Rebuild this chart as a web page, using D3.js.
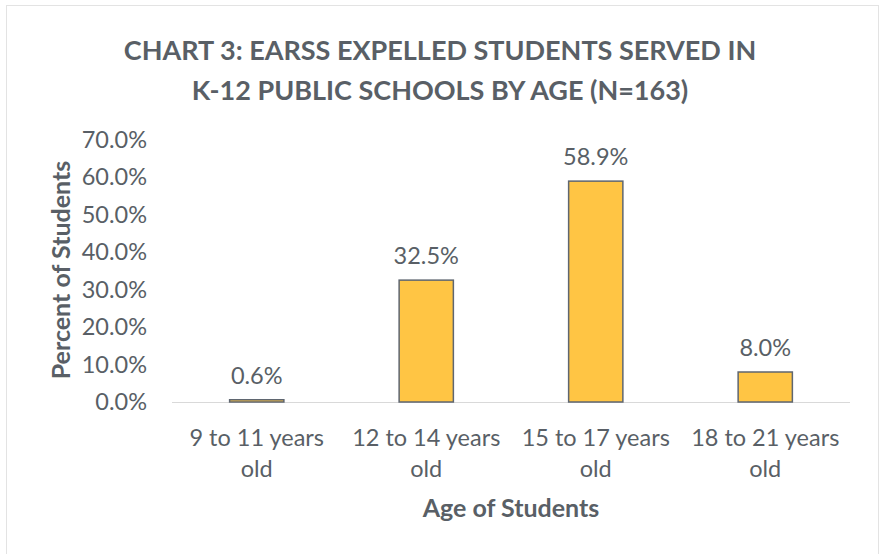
<!DOCTYPE html>
<html>
<head>
<meta charset="utf-8">
<script src="https://cdn.jsdelivr.net/npm/d3@7"></script>
<style>
  body { margin: 0; background: #fff; }
  text { font-family: Lato, "Open Sans", sans-serif; fill: #595f66; }
</style>
</head>
<body>
<svg id="chart" width="880" height="554"></svg>
<script>
const categories = [["9 to 11 years", "old"], ["12 to 14 years", "old"], ["15 to 17 years", "old"], ["18 to 21 years", "old"]];
const values = [0.6, 32.5, 58.9, 8.0];
const yTicks = [0, 10, 20, 30, 40, 50, 60, 70];
const titleLines = ["CHART 3: EARSS EXPELLED STUDENTS SERVED IN", "K-12 PUBLIC SCHOOLS BY AGE (N=163)"];

const svg = d3.select("#chart");

// outer frame
svg.append("rect")
  .attr("x", 6.5).attr("y", 5.5)
  .attr("width", 872).attr("height", 560)
  .attr("fill", "#fff").attr("stroke", "#e3e3e3").attr("stroke-width", 1);

const plot = { left: 172, right: 850, top: 139.5, bottom: 402 };

const x = d3.scaleBand()
  .domain(categories.map((d, i) => i))
  .range([plot.left, plot.right])
  .paddingInner(0.68).paddingOuter(0.34);

const y = d3.scaleLinear().domain([0, 70]).range([plot.bottom, plot.top]);

// title
svg.append("g").selectAll("text")
  .data(titleLines)
  .join("text")
  .attr("x", 440)
  .attr("y", (d, i) => 60 + i * 40)
  .attr("text-anchor", "middle")
  .attr("font-size", 27)
  .attr("font-weight", "bold")
  .text(d => d);

// y axis labels
const yAxis = svg.append("g")
  .attr("transform", `translate(147,0)`)
  .call(d3.axisLeft(y).tickValues(yTicks).tickFormat(d => d.toFixed(1) + "%").tickSize(0).tickPadding(0));
yAxis.select(".domain").remove();
yAxis.selectAll("text").attr("font-size", 23.5).attr("fill", "#595f66")
  .style("font-family", "Lato, 'Open Sans', sans-serif");

// baseline
svg.append("line")
  .attr("x1", plot.left).attr("x2", plot.right)
  .attr("y1", plot.bottom + 0.5).attr("y2", plot.bottom + 0.5)
  .attr("stroke", "#d9d9d9").attr("stroke-width", 1);

// bars
svg.append("g").selectAll("rect")
  .data(values)
  .join("rect")
  .attr("x", (d, i) => x(i))
  .attr("y", d => y(d))
  .attr("width", x.bandwidth())
  .attr("height", d => y(0) - y(d))
  .attr("fill", "#ffc544")
  .attr("stroke", "#5f6670")
  .attr("stroke-width", 1.5);

// value labels
svg.append("g").selectAll("text")
  .data(values)
  .join("text")
  .attr("x", (d, i) => x(i) + x.bandwidth() / 2)
  .attr("y", d => y(d) - 16)
  .attr("text-anchor", "middle")
  .attr("font-size", 23.5)
  .text(d => d.toFixed(1) + "%");

// category labels
const cat = svg.append("g").selectAll("text")
  .data(categories)
  .join("text")
  .attr("x", (d, i) => x(i) + x.bandwidth() / 2)
  .attr("y", 446)
  .attr("text-anchor", "middle")
  .attr("font-size", 23.5);
cat.selectAll("tspan")
  .data(d => d)
  .join("tspan")
  .attr("x", function () { return d3.select(this.parentNode).attr("x"); })
  .attr("dy", (d, i) => i === 0 ? 0 : 31)
  .text(d => d);

// axis titles
svg.append("text")
  .attr("x", (plot.left + plot.right) / 2)
  .attr("y", 517)
  .attr("text-anchor", "middle")
  .attr("font-size", 25)
  .attr("font-weight", "bold")
  .text("Age of Students");

svg.append("text")
  .attr("transform", `translate(70,270) rotate(-90)`)
  .attr("text-anchor", "middle")
  .attr("font-size", 25)
  .attr("font-weight", "bold")
  .text("Percent of Students");
</script>
</body>
</html>
